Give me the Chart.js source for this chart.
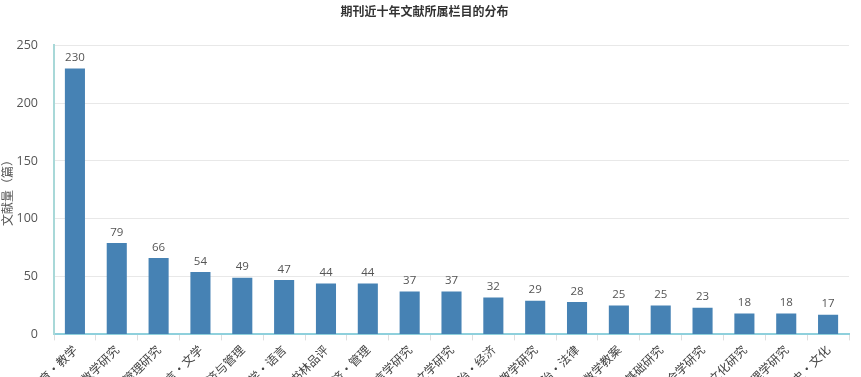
<!DOCTYPE html>
<html>
<head>
<meta charset="utf-8">
<script src="https://cdn.jsdelivr.net/npm/chart.js@4/dist/chart.umd.min.js"></script>
<style>
html,body{margin:0;padding:0;background:#fff;overflow:hidden;}
#wrap{position:relative;width:861px;height:397px;}
</style>
</head>
<body>
<div id="wrap"><canvas id="c"></canvas></div>
<script>
const chartTitle = '期刊近十年文献所属栏目的分布';
const yAxisTitle = '文献量（篇）';
const categories = ['教育·教学','数学研究','管理研究','语言·文学','经济与管理','文学·语言','书林品评','经济·管理','语言学研究','文学研究','政治·经济','教学研究','政治·法律','数学教案','基础研究','社会学研究','文化研究','心理学研究','历史·文化'];
const counts = [230,79,66,54,49,47,44,44,37,37,32,29,28,25,25,23,18,18,17];
const yTicks = [0,50,100,150,200,250];

const valueLabels = {
  id:'valueLabels',
  afterDatasetsDraw(chart){
    const ctx = chart.ctx;
    const meta = chart.getDatasetMeta(0);
    ctx.save();
    ctx.font = '11.5px "Open Sans", "DejaVu Sans", sans-serif';
    ctx.fillStyle = '#555';
    ctx.textAlign = 'center';
    ctx.textBaseline = 'bottom';
    meta.data.forEach((bar,i)=>{
      ctx.fillText(String(counts[i]), bar.x, bar.y - 5);
    });
    ctx.restore();
  }
};

new Chart(document.getElementById('c'), {
  type:'bar',
  data:{
    labels:categories,
    datasets:[{data:counts, backgroundColor:'#4682b4', barPercentage:0.96, categoryPercentage:0.5}]
  },
  options:{
    responsive:true,
    maintainAspectRatio:false,
    animation:false,
    layout:{padding:{top:0,right:12,left:0,bottom:0}},
    plugins:{
      legend:{display:false},
      tooltip:{enabled:false},
      title:{display:true,text:chartTitle,color:'#333',font:{size:12,weight:'bold',family:'"Noto Sans CJK SC", sans-serif'},padding:{top:4,bottom:27}}
    },
    scales:{
      x:{
        grid:{display:true,drawOnChartArea:false,drawTicks:true,tickLength:6,color:'#ddd',offset:true},
        border:{display:true,color:'#8fd0dc',width:2},
        ticks:{color:'#444',maxRotation:45,minRotation:45,autoSkip:false,padding:2,font:{size:12,family:'"Noto Sans CJK SC", sans-serif'}}
      },
      y:{
        min:0,max:250,
        afterBuildTicks(axis){axis.ticks = yTicks.map(v=>({value:v}));},
        afterFit(axis){axis.width = 54;},
        grid:{color:'#e8e8e8',drawTicks:false},
        border:{display:true,color:'#a8d8d8',width:2},
        ticks:{color:'#555',padding:16,font:{size:12.5,family:'"Open Sans", sans-serif'}},
        title:{display:true,text:yAxisTitle,color:'#555',font:{size:12,family:'"Noto Sans CJK SC", sans-serif'},padding:{top:0,bottom:4}}
      }
    }
  },
  plugins:[valueLabels]
});
</script>
</body>
</html>
